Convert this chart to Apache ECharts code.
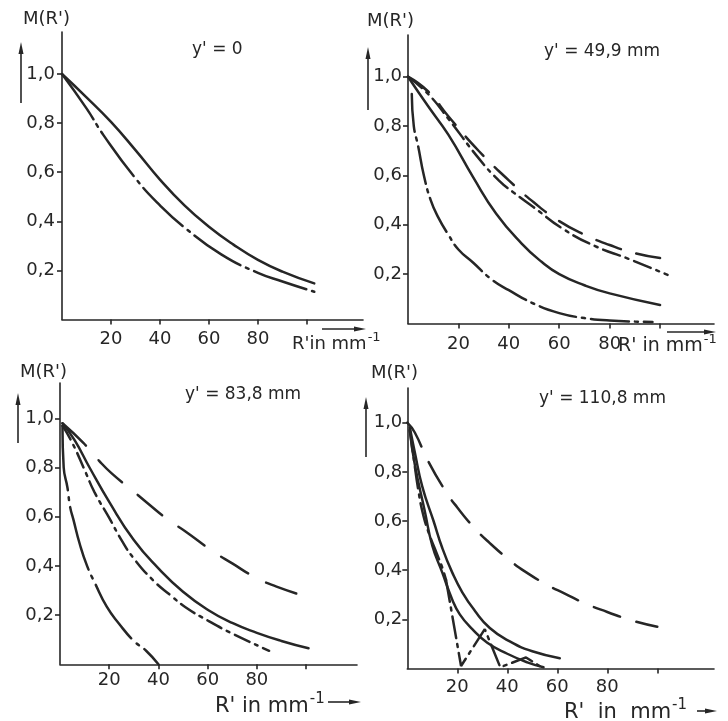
<!DOCTYPE html>
<html><head><meta charset="utf-8">
<script src="https://cdn.jsdelivr.net/npm/echarts@6/dist/echarts.min.js"></script>
<style>html,body{margin:0;padding:0;background:#fff}#c{width:728px;height:721px}</style>
</head><body><div id="c"></div>
<script>
// ---------- data ----------
const xTickValues = [20, 40, 60, 80, 100];
const xLabelValues = [20, 40, 60, 80];
const yTickValues = [0.2, 0.4, 0.6, 0.8, 1.0];

const panelTitles = ["y' = 0", "y' = 49,9 mm", "y' = 83,8 mm", "y' = 110,8 mm"];
const yAxisTitle = "M(R')";
const xAxisTitles = ["R'in mm", "R' in mm", "R' in mm", "R'  in  mm"];
const xAxisExponent = "-1";

// panel 1 : y' = 0
const p1SolidR = [0, 10, 20, 30, 40, 50, 60, 70, 80, 90, 103];
const p1SolidM = [1.0, 0.905, 0.805, 0.69, 0.57, 0.465, 0.378, 0.305, 0.243, 0.195, 0.147];
const p1DashDotR = [0, 10, 17, 30, 40, 50, 65, 80, 90, 103];
const p1DashDotM = [1.0, 0.86, 0.75, 0.575, 0.465, 0.375, 0.265, 0.19, 0.155, 0.113];

// panel 2 : y' = 49,9 mm
const p2SolidR = [0, 8, 16, 26, 35, 45, 53, 60, 70, 80, 100];
const p2SolidM = [1.0, 0.88, 0.765, 0.59, 0.445, 0.325, 0.25, 0.2, 0.155, 0.122, 0.075];
const p2SteepR = [1.5, 2.3, 4, 6.3, 9, 12, 16, 20, 26, 33, 40, 50, 60, 70, 80, 97];
const p2SteepM = [0.93, 0.80, 0.72, 0.60, 0.50, 0.43, 0.36, 0.30, 0.245, 0.18, 0.135, 0.08, 0.042, 0.022, 0.012, 0.006];
const p2DashedR = [0, 8, 16, 28, 40, 50, 60, 70, 80, 90, 100];
const p2DashedM = [1.0, 0.94, 0.84, 0.70, 0.58, 0.49, 0.415, 0.36, 0.318, 0.285, 0.265];
const p2DashDotR = [0, 8, 16, 28, 36, 42, 50, 62, 75, 87, 103];
const p2DashDotM = [1.0, 0.93, 0.83, 0.67, 0.58, 0.53, 0.47, 0.38, 0.31, 0.264, 0.197];

// panel 3 : y' = 83,8 mm
const p3SteepR = [1, 1.5, 3, 4.1, 5.4, 8, 11, 14.2, 19, 24, 30, 35, 40];
const p3SteepM = [0.97, 0.80, 0.72, 0.64, 0.59, 0.49, 0.40, 0.33, 0.234, 0.165, 0.095, 0.055, 0.0];
const p3MidR = [1, 5, 10, 14, 20, 25, 30, 38, 45, 51, 60, 70, 85];
const p3MidM = [0.97, 0.90, 0.79, 0.70, 0.595, 0.505, 0.43, 0.34, 0.28, 0.232, 0.178, 0.125, 0.055];
const p3SolidR = [1, 6, 12, 20, 30, 40, 50, 60, 70, 80, 90, 101];
const p3SolidM = [0.98, 0.91, 0.80, 0.66, 0.505, 0.39, 0.295, 0.222, 0.168, 0.128, 0.095, 0.065];
const p3DashedR = [1, 9.5, 16, 21, 29, 35, 44, 51, 62, 70, 80, 88, 100];
const p3DashedM = [0.98, 0.90, 0.826, 0.776, 0.71, 0.66, 0.587, 0.54, 0.46, 0.41, 0.35, 0.316, 0.275];

// panel 4 : y' = 110,8 mm
const p4DashedR = [0, 3, 8, 15, 20, 27, 33, 41, 47, 56, 63, 71, 80, 90, 100];
const p4DashedM = [1.0, 0.96, 0.85, 0.726, 0.655, 0.57, 0.51, 0.44, 0.395, 0.34, 0.305, 0.265, 0.23, 0.195, 0.17];
const p4SolidUpR = [1, 3, 6, 10.5, 14, 18, 22, 27, 33, 41, 50, 61];
const p4SolidUpM = [0.98, 0.88, 0.74, 0.60, 0.49, 0.39, 0.31, 0.235, 0.165, 0.11, 0.07, 0.042];
const p4SolidLoR = [1, 3, 7, 10, 14, 18, 21, 26, 32, 40, 48, 54.5];
const p4SolidLoM = [0.97, 0.83, 0.64, 0.50, 0.39, 0.28, 0.22, 0.16, 0.105, 0.06, 0.025, 0.005];
const p4DashDotAR = [1, 2.5, 4.5, 6.5, 9, 11.7, 14, 15.5];
const p4DashDotAM = [0.97, 0.86, 0.72, 0.62, 0.54, 0.47, 0.41, 0.36];
const p4DashDotBR = [15.5, 21.5, 31, 37.2, 41, 47.5, 54.5];
const p4DashDotBM = [0.36, 0.01, 0.16, 0.005, 0.02, 0.045, 0.0];

// ---------- layout / style ----------
const INK = '#262626';
const FONT = 'DejaVu Sans';
const layout = [
  {left: 62, top: 32, width: 301, height: 287.5, xMax: 122.9, yMax: 1.171, xm: 11, ym: 7},
  {left: 408, top: 35, width: 306, height: 288.5, xMax: 121.4, yMax: 1.169, xm: 12, ym: 6},
  {left: 60, top: 383, width: 297, height: 281.3, xMax: 120.7, yMax: 1.1435, xm: 7, ym: 6},
  {left: 407.3, top: 388, width: 306.7, height: 280.5, xMax: 122.7, yMax: 1.141, xm: 10, ym: 5}
];
const DASH = [26, 16];
const DASHDOT_LONG = [55, 6, 3, 6];
const DASHDOT_MED = [38, 6, 3, 6];
const DASHDOT_SHORT = [18, 6, 3, 6];

const grids = [], xAxes = [], yAxes = [];
layout.forEach((g, i) => {
  grids.push({left: g.left, top: g.top, width: g.width, height: g.height, containLabel: false});
  xAxes.push({
    type: 'value', gridIndex: i, min: 0, max: g.xMax,
    axisLine: {show: true, onZero: false, lineStyle: {color: INK, width: 1.6}},
    axisTick: {show: true, length: 5, customValues: xTickValues, lineStyle: {color: INK, width: 1.6}},
    axisLabel: {show: true, customValues: xLabelValues, margin: g.xm, color: INK, fontFamily: FONT, fontSize: 18},
    splitLine: {show: false}
  });
  yAxes.push({
    type: 'value', gridIndex: i, min: 0, max: g.yMax,
    axisLine: {show: true, onZero: false, lineStyle: {color: INK, width: 1.6}},
    axisTick: {show: true, length: 5, customValues: yTickValues, lineStyle: {color: INK, width: 1.6}},
    axisLabel: {show: true, customValues: yTickValues, margin: g.ym, color: INK, fontFamily: FONT, fontSize: 18,
      formatter: v => v.toFixed(1).replace('.', ',')},
    splitLine: {show: false}
  });
});

function curve(gi, R, M, type, smooth) {
  return {
    type: 'line', xAxisIndex: gi, yAxisIndex: gi,
    data: R.map((r, k) => [r, M[k]]),
    smooth: smooth === undefined ? 0.5 : smooth,
    symbol: 'none', showSymbol: false, silent: true, clip: false,
    lineStyle: {color: INK, width: 2.5, type: type, cap: 'round'}
  };
}

const series = [
  curve(0, p1SolidR, p1SolidM, 'solid'),
  curve(0, p1DashDotR, p1DashDotM, DASHDOT_LONG),
  curve(1, p2SolidR, p2SolidM, 'solid'),
  curve(1, p2SteepR, p2SteepM, DASHDOT_MED),
  curve(1, p2DashedR, p2DashedM, DASH),
  curve(1, p2DashDotR, p2DashDotM, DASHDOT_SHORT),
  curve(2, p3SteepR, p3SteepM, [65, 7, 3, 7]),
  curve(2, p3MidR, p3MidM, [16, 6, 3, 6]),
  curve(2, p3SolidR, p3SolidM, 'solid'),
  curve(2, p3DashedR, p3DashedM, [32, 20]),
  curve(3, p4DashedR, p4DashedM, [28, 17]),
  curve(3, p4SolidUpR, p4SolidUpM, 'solid'),
  curve(3, p4SolidLoR, p4SolidLoM, 'solid'),
  curve(3, p4DashDotAR, p4DashDotAM, [22, 6, 3, 6]),
  curve(3, p4DashDotBR, p4DashDotBM, [22, 6, 3, 6], false)
];

// ---------- annotations ----------
const graphic = [];
function hArrow(x1, x2, y) {
  graphic.push({type: 'line', silent: true, shape: {x1: x1, y1: y, x2: x2 - 8, y2: y}, style: {stroke: INK, lineWidth: 1.6}});
  graphic.push({type: 'polygon', silent: true, shape: {points: [[x2 - 12, y - 2.5], [x2, y], [x2 - 12, y + 2.5]]}, style: {fill: INK}});
}
function vArrow(x, yTip, yEnd) {
  graphic.push({type: 'line', silent: true, shape: {x1: x, y1: yTip + 8, x2: x, y2: yEnd}, style: {stroke: INK, lineWidth: 1.6}});
  graphic.push({type: 'polygon', silent: true, shape: {points: [[x - 2.5, yTip + 12], [x, yTip], [x + 2.5, yTip + 12]]}, style: {fill: INK}});
}
// M(R') labels
[[23, 10], [367, 12], [20, 363], [371, 364]].forEach(p => {
  graphic.push({type: 'text', left: p[0], top: p[1], silent: true,
    style: {text: yAxisTitle, fill: INK, font: '18px "' + FONT + '"'}});
});
// y' titles
[[192, 41], [544, 43], [185, 386], [539, 390]].forEach((p, i) => {
  graphic.push({type: 'text', left: p[0], top: p[1], silent: true,
    style: {text: panelTitles[i], fill: INK, font: '17px "' + FONT + '"'}});
});
// R' in mm^-1 labels (with superscript exponent)
[[292, 331, 18], [618, 333, 19], [215, 692, 21], [564, 698, 21]].forEach((p, i) => {
  graphic.push({type: 'text', left: p[0], top: p[1], silent: true,
    style: {
      text: '{b|' + xAxisTitles[i] + '}{s|' + xAxisExponent + '}',
      rich: {
        b: {fontSize: p[2], fontFamily: FONT, fill: INK, lineHeight: p[2] + 4, verticalAlign: 'bottom'},
        s: {fontSize: Math.round(p[2] * 0.7), fontFamily: FONT, fill: INK, verticalAlign: 'top', padding: [0, 0, 0, 1]}
      }
    }});
});
// arrows
vArrow(21, 42, 103);
vArrow(368, 47, 110);
vArrow(18, 393, 443);
vArrow(366, 397, 457);
hArrow(322, 366, 329);
hArrow(667, 716, 332);
hArrow(328, 361, 702);
hArrow(697, 717, 711);

const chart = echarts.init(document.getElementById('c'), null, {renderer: 'canvas'});
chart.setOption({
  backgroundColor: '#ffffff',
  animation: false,
  grid: grids, xAxis: xAxes, yAxis: yAxes,
  series: series,
  graphic: graphic
});
</script>
</body></html>
